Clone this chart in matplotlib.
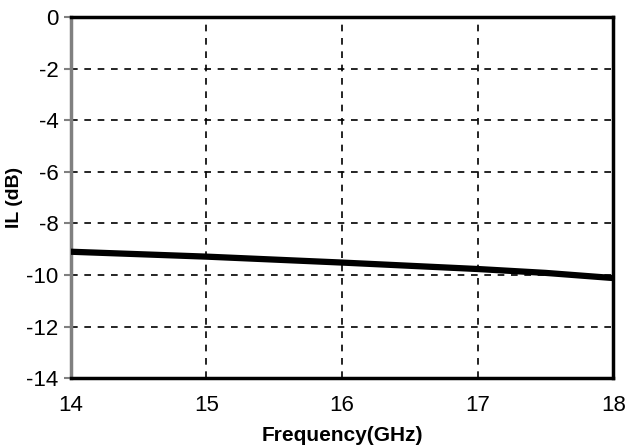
import matplotlib
matplotlib.use("Agg")
import matplotlib.pyplot as plt
import numpy as np

freq = [14.0, 15.0, 16.0, 17.0, 17.5, 18.0]
il_db = [-9.1, -9.29, -9.52, -9.77, -9.92, -10.12]

x_ticks = [14, 15, 16, 17, 18]
y_ticks = [0, -2, -4, -6, -8, -10, -12, -14]

plt.rcParams['font.family'] = ['Liberation Sans', 'DejaVu Sans']

fig = plt.figure(figsize=(6.27, 4.48), dpi=100)
ax = fig.add_axes([0.113, 0.156, 0.865, 0.806])

ax.plot(freq, il_db, color="black", linewidth=4.5, solid_capstyle="butt", zorder=3)

ax.set_xlim(14, 18)
ax.set_ylim(-14, 0)
ax.set_xticks(x_ticks)
ax.set_yticks(y_ticks)
ax.set_xticklabels([str(t) for t in x_ticks], fontsize=16)
ax.set_yticklabels([str(t) for t in y_ticks], fontsize=16)

ax.grid(True, color="black", linestyle=(0, (4, 4)), linewidth=1.2)

for side in ["top", "right", "bottom"]:
    ax.spines[side].set_color("black")
    ax.spines[side].set_linewidth(2.5)
ax.spines["left"].set_color("gray")
ax.spines["left"].set_linewidth(2.5)

ax.tick_params(axis="y", direction="out", length=5, width=1.5, color="gray", pad=4)
ax.tick_params(axis="x", length=0, pad=12)

ax.set_xlabel("Frequency(GHz)", fontsize=15, fontweight="bold", labelpad=7)
ax.set_ylabel("IL (dB)", fontsize=14, fontweight="bold", labelpad=2)

plt.savefig("out.png", dpi=100)
